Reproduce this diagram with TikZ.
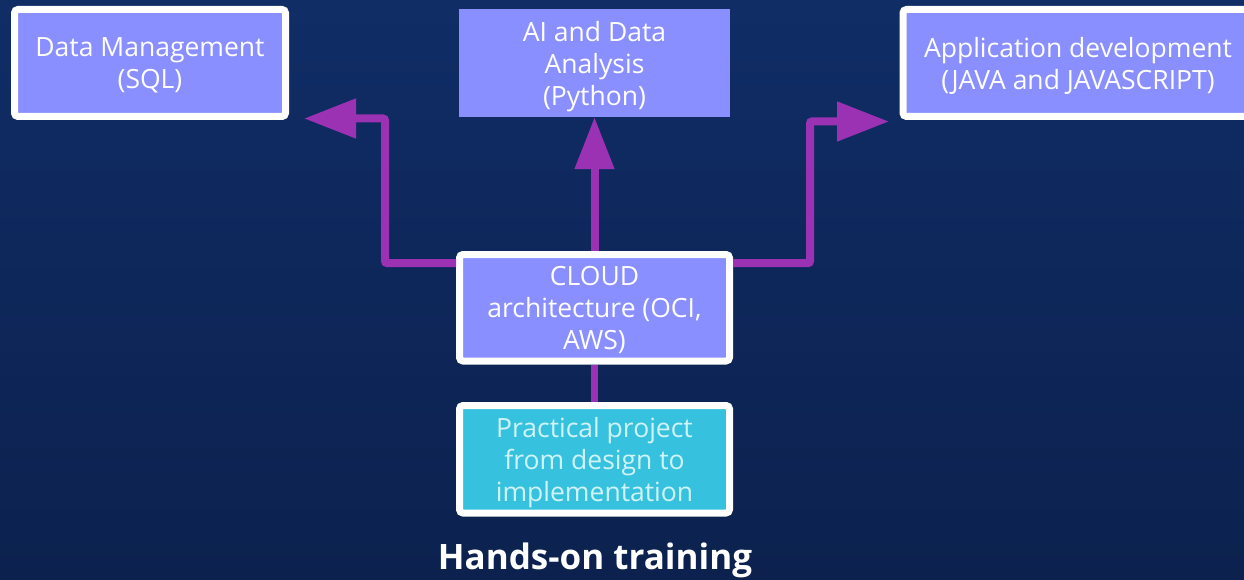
\documentclass[tikz,border=0pt]{standalone}
\usepackage{fontspec}
\setmainfont{Open Sans}
\usetikzlibrary{arrows.meta,shadows.blur}
\definecolor{bgtop}{RGB}{16,45,102}
\definecolor{bgbot}{RGB}{12,33,78}
\definecolor{boxblue}{RGB}{138,143,255}
\definecolor{boxcyan}{RGB}{54,194,222}
\definecolor{cyantext}{RGB}{208,243,248}
\definecolor{conncol}{RGB}{155,50,180}
\tikzset{
  box/.style={fill=boxblue, inner sep=0pt, align=center, text=white,
    text depth=0pt, font=\fontsize{26.5}{32}\selectfont},
  framed/.style={box, draw=white, line width=7pt, rounded corners=3.5pt,
    blur shadow={shadow blur steps=6, shadow xshift=1.5pt, shadow yshift=-2pt, shadow opacity=35}},
  conn/.style={draw=conncol, line width=8pt, rounded corners=2pt,
    -{Triangle[length=52pt,width=38pt]}},
  plain/.style={draw=conncol, line width=7pt}
}
\begin{document}
\begin{tikzpicture}[x=1pt,y=-1pt]
\useasboundingbox (0,0) rectangle (1244,580);
\clip (0,0) rectangle (1244,580);
\shade[top color=bgtop, bottom color=bgbot] (0,0) rectangle (1244,580);

% nodes
\node[framed, minimum width=271pt, minimum height=107pt] (dm) at (150,63)
  {Data Management\\(SQL)};
\node[box, minimum width=271pt, minimum height=108pt] (ai) at (594.5,63)
  {AI and Data\\Analysis\\(Python)};
\node[framed, minimum width=350pt, minimum height=107pt] (app) at (1078,63)
  {Application development\\(JAVA and JAVASCRIPT)};
\node[framed, minimum width=270pt, minimum height=106.5pt] (cloud) at (594.5,307.75)
  {CLOUD\\architecture (OCI,\\AWS)};
\node[framed, fill=boxcyan, text=cyantext, minimum width=270pt, minimum height=107.5pt] (prac) at (594.5,459.25)
  {Practical project\\from design to\\implementation};
\node[text=white, font=\fontsize{35}{40}\selectfont\bfseries] (title) at (595,560)
  {Hands-on training};

\coordinate (lt) at (304,118.5);
\coordinate (rt) at (889,121.5);

% connectors
\draw[conn] ([yshift=-12pt]cloud.north west) -| (385,118.5) -- (lt);
\draw[conn] ([yshift=-12pt]cloud.north east) -| (810,121.5) -- (rt);
\draw[conn, rounded corners=0pt] (cloud.north) -- (ai.south);
\draw[plain] (cloud.south) -- (prac.north);
\end{tikzpicture}
\end{document}
